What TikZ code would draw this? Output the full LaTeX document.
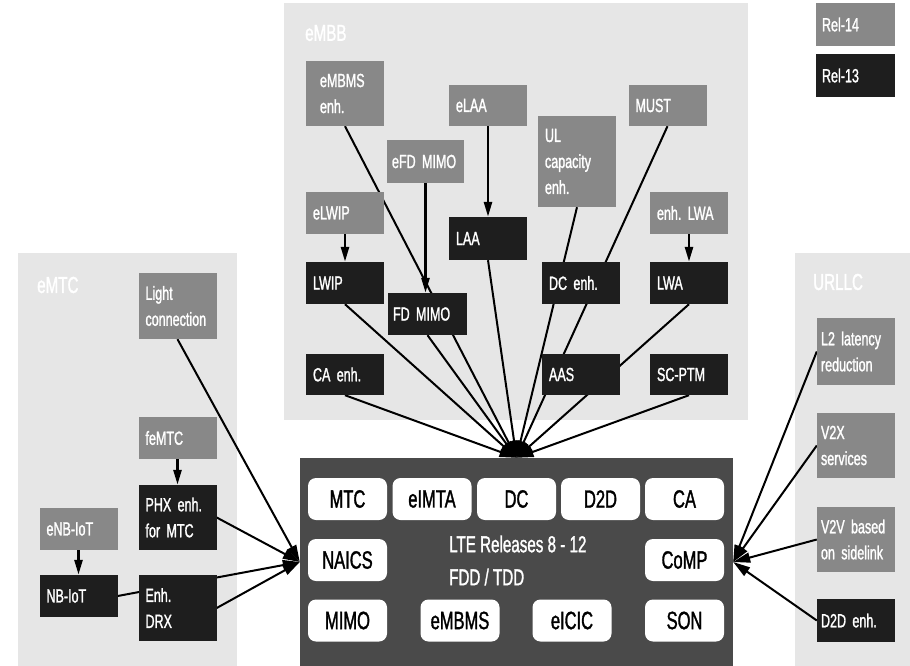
\documentclass[tikz,border=0pt]{standalone}
\usepackage{fontspec}
\setmainfont[FakeStretch=0.66, FakeBold=1.3]{Liberation Sans}
\usepackage{tikz}
\usetikzlibrary{arrows.meta, positioning, backgrounds}
\usepackage{xcolor}
\definecolor{relgray}{RGB}{136, 136, 136}
\definecolor{relblack}{RGB}{30, 30, 30}
\definecolor{grpgray}{RGB}{230, 230, 230}
\definecolor{ltegray}{RGB}{74, 74, 74}
\pgfdeclarelayer{groups}
\pgfdeclarelayer{links}
\pgfsetlayers{groups,links,main}
\tikzset{
  gbox/.style={
    rectangle, fill=relgray, text=white,
    text width=64pt, align=left, inner xsep=7pt, inner ysep=0pt,
    font=\fontsize{19}{26}\selectfont, minimum height=42pt
  },
  kbox/.style={gbox, fill=relblack},
  wbox/.style={
    rectangle, rounded corners=8pt, fill=white, text=black,
    minimum width=79pt, minimum height=42pt, inner sep=0pt,
    font=\fontsize{25}{28}\selectfont
  },
  lbox/.style={
    rectangle, fill=ltegray, minimum width=433pt, minimum height=208pt, inner sep=0pt
  },
  glabel/.style={anchor=west, text=white, inner sep=0pt, font=\fontsize{23}{26}\selectfont},
  arr/.style={-{Triangle[length=15pt,width=8pt]}, line width=2.6pt, color=black},
  harr/.style={-{Triangle[length=17pt,width=10pt]}, line width=2pt, color=black},
}

\begin{document}
\begin{tikzpicture}[x=1pt, y=-1pt]
  \useasboundingbox (0,0) rectangle (910,666);
  % groups
  \begin{pgfonlayer}{groups}
    \fill[grpgray] (284,3) rectangle (748,420);
    \fill[grpgray] (18,253) rectangle (237,666);
    \fill[grpgray] (795,253) rectangle (910,666);
  \end{pgfonlayer}
  \node[glabel] (lembb) at (305,33) {eMBB};
  \node[glabel] (lemtc) at (37,285) {eMTC};
  \node[glabel] (lurllc) at (813,282) {URLLC};

  % legend
  \node[gbox, minimum height=43pt, inner xsep=6pt, text width=67pt] (rel14) at (855.5,24.5) {Rel-14};
  \node[kbox, minimum height=43pt, inner xsep=6pt, text width=67pt] (rel13) at (855.5,75.5) {Rel-13};

  % LTE core
  \node[lbox] (lte) at (516.5,562) {};
  \node[wbox] (mtc)   at (347.5,499) {MTC};
  \node[wbox] (eimta) at (432,499)   {eIMTA};
  \node[wbox] (dc)    at (516.5,499) {DC};
  \node[wbox] (dtd)   at (600.5,499) {D2D};
  \node[wbox] (ca)    at (684.5,499) {CA};
  \node[wbox] (naics) at (347.5,560) {NAICS};
  \node[wbox] (comp)  at (684.5,560) {CoMP};
  \node[wbox] (mimo)  at (347.5,620.5) {MIMO};
  \node[wbox] (embms) at (460,620.5) {eMBMS};
  \node[wbox] (eicic) at (572,620.5) {eICIC};
  \node[wbox] (son)   at (684.5,620.5) {SON};
  \node[anchor=west, align=left, text=white, inner sep=0pt,
        font=\fontsize{23}{33}\selectfont] (ltetxt) at (449,560.5)
        {LTE Releases 8 - 12\\FDD / TDD};

  % eMBB
  \node[gbox, minimum height=65pt, inner xsep=14pt, text width=50pt] (embmsenh) at (345,93.5) {eMBMS\\enh.};
  \node[gbox, minimum height=41pt] (elaa) at (488,105.5) {eLAA};
  \node[gbox, minimum height=43pt, inner xsep=5pt, text width=67pt] (efdmimo) at (425.5,161.5) {eFD MIMO};
  \node[gbox, minimum height=91pt] (ulcap) at (577,161.5) {UL\\capacity\\enh.};
  \node[gbox, minimum height=41pt] (must) at (667.5,105.5) {MUST};
  \node[gbox] (elwip) at (345,213) {eLWIP};
  \node[gbox] (enhlwa) at (689,213) {enh.\ LWA};
  \node[kbox, minimum height=43pt] (laa) at (488,238.5) {LAA};
  \node[kbox] (lwip) at (345,283) {LWIP};
  \node[kbox, inner xsep=5pt, text width=69pt] (fdmimo) at (427.5,314) {FD MIMO};
  \node[kbox] (dcenh) at (581,283) {DC enh.};
  \node[kbox] (lwa) at (689,283) {LWA};
  \node[kbox, minimum height=41pt] (caenh) at (345,374.5) {CA enh.};
  \node[kbox, minimum height=41pt] (aas) at (581,374.5) {AAS};
  \node[kbox, minimum height=41pt] (scptm) at (689,374.5) {SC-PTM};

  % eMTC
  \node[gbox, minimum height=66pt] (light) at (177.5,306) {Light\\connection};
  \node[gbox] (femtc) at (177.5,438) {feMTC};
  \node[kbox, minimum height=65pt] (phx) at (177.5,517.5) {PHX enh.\\for MTC};
  \node[gbox] (enbiot) at (78.5,529) {eNB-IoT};
  \node[kbox] (nbiot) at (78.5,596) {NB-IoT};
  \node[kbox, minimum height=66pt] (edrx) at (177.5,608) {Enh.\\DRX};

  % URLLC
  \node[gbox, minimum height=67pt, inner xsep=4pt, text width=70pt] (ltwo) at (856,351.5) {L2 latency\\reduction};
  \node[gbox, minimum height=65pt, inner xsep=4pt, text width=70pt] (vtx) at (856,445.5) {V2X\\services};
  \node[gbox, minimum height=65pt, inner xsep=4pt, text width=70pt] (vtv) at (856,539.5) {V2V based\\on sidelink};
  \node[kbox, minimum height=43pt, inner xsep=4pt, text width=70pt] (dtdenh) at (856,620.5) {D2D enh.};

  % connectors
  \begin{pgfonlayer}{links}
    \draw[arr] (elaa) -- (laa);
    \draw[arr] (efdmimo.south) -- (efdmimo.south |- fdmimo.north);
    \draw[arr] (elwip) -- (lwip);
    \draw[arr] (enhlwa) -- (lwa);
    \draw[arr] (femtc) -- (phx);
    \draw[arr] (enbiot) -- (nbiot);
    \foreach \src in {caenh, lwip, embmsenh, fdmimo, laa, ulcap, must, lwa, scptm}
      \draw[harr] (\src.south) -- (lte.north);
    \draw[harr] (light.south) -- (lte.west);
    \draw[harr] (phx.east) -- (lte.west);
    \draw[harr] (nbiot.east) -- (lte.west);
    \draw[harr] (edrx.east) -- (lte.west);
    \foreach \src in {ltwo, vtx, vtv, dtdenh}
      \draw[harr] (\src.west) -- (lte.east);
  \end{pgfonlayer}
\end{tikzpicture}
\end{document}
